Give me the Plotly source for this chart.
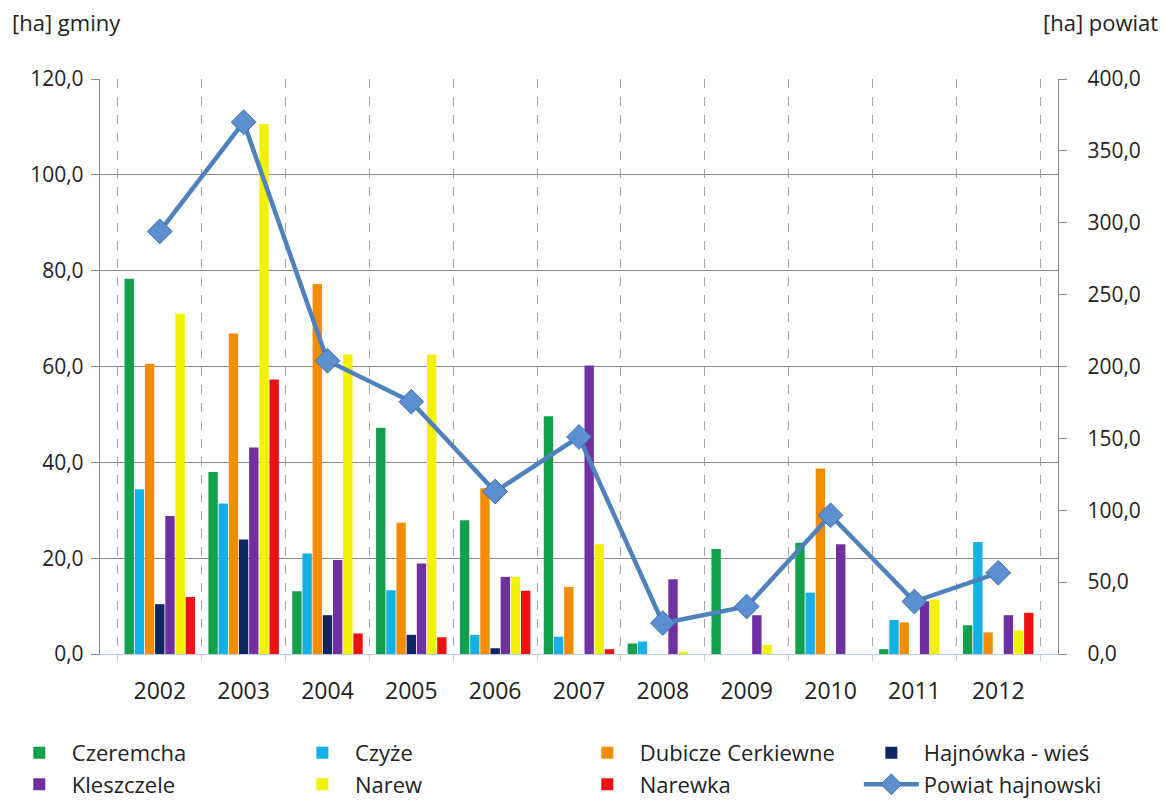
import plotly.graph_objects as go

years = ["2002", "2003", "2004", "2005", "2006", "2007", "2008", "2009", "2010", "2011", "2012"]

czeremcha = [78.3, 38.0, 13.1, 47.2, 27.9, 49.6, 2.2, 21.9, 23.2, 1.0, 6.0]
czyze = [34.4, 31.4, 21.0, 13.3, 4.0, 3.6, 2.6, 0.0, 12.8, 7.1, 23.4]
dubicze = [60.6, 66.9, 77.2, 27.4, 34.6, 14.0, 0.0, 0.0, 38.7, 6.6, 4.5]
hajnowka = [10.4, 23.9, 8.1, 4.0, 1.2, 0.0, 0.0, 0.0, 0.0, 0.0, 0.0]
kleszczele = [28.8, 43.1, 19.6, 18.9, 16.1, 60.2, 15.6, 8.1, 22.9, 11.0, 8.1]
narew = [71.0, 110.6, 62.5, 62.5, 16.1, 22.9, 0.5, 1.9, 0.0, 11.4, 4.9]
narewka = [11.9, 57.3, 4.3, 3.5, 13.2, 1.0, 0.0, 0.0, 0.0, 0.0, 8.6]
powiat = [294.0, 370.0, 204.0, 175.5, 113.0, 151.0, 21.5, 33.0, 96.5, 36.5, 56.5]

series = [
    ("Czeremcha", czeremcha, "#12a04c"),
    ("Czyże", czyze, "#14b0e6"),
    ("Dubicze Cerkiewne", dubicze, "#f28c00"),
    ("Hajnówka - wieś", hajnowka, "#0d2560"),
    ("Kleszczele", kleszczele, "#7030a0"),
    ("Narew", narew, "#f2f200"),
    ("Narewka", narewka, "#ee1111"),
]

FONT = "Open Sans"
TXT = "#222222"

# legend slots: (x paper, y paper) for 4 columns x 2 rows
col_x = [-0.0973, 0.1982, 0.4956, 0.7921]
row_y = [-0.1720, -0.2270]
legend_ids = ["legend", "legend2", "legend3", "legend4",
              "legend5", "legend6", "legend7", "legend8"]

fig = go.Figure()
for i, (name, vals, col) in enumerate(series):
    fig.add_trace(go.Bar(
        x=years, y=vals, name=name,
        marker=dict(color=col, line=dict(width=0)),
        yaxis="y", legend=legend_ids[i],
    ))

fig.add_trace(go.Scatter(
    x=years, y=powiat, name="Powiat hajnowski", yaxis="y2",
    mode="lines+markers", legend=legend_ids[7],
    line=dict(color="#4f81bd", width=4.5),
    marker=dict(symbol="diamond", size=19, color="#5b8fcf",
                line=dict(color="#3f6fa8", width=1)),
))

legend_layouts = {}
for i, lid in enumerate(legend_ids):
    legend_layouts[lid] = dict(
        x=col_x[i % 4], xanchor="left",
        y=row_y[i // 4], yanchor="middle",
        orientation="h", itemwidth=55,
        bgcolor="rgba(0,0,0,0)",
        font=dict(family=FONT, size=22, color=TXT),
    )

fig.update_layout(
    width=1158, height=792,
    paper_bgcolor="white", plot_bgcolor="white",
    margin=dict(l=92, r=108, t=71, b=146, autoexpand=False),
    barmode="group", bargap=0.15, bargroupgap=0.08,
    separators=",.",
    font=dict(family=FONT, size=21, color=TXT),
    showlegend=True,
    xaxis=dict(
        type="category", tickson="boundaries",
        showgrid=True, gridcolor="#a6a6a6", griddash="dash", gridwidth=1.2,
        showline=True, linecolor="#b9cde8", linewidth=1,
        ticks="outside", ticklen=6, tickcolor="#b9cde8",
        ticklabelstandoff=16,
        tickfont=dict(family=FONT, size=23, color=TXT),
    ),
    yaxis=dict(
        range=[0, 120], dtick=20, tickformat=".1f",
        showgrid=True, gridcolor="#8a8a8a", gridwidth=1.4,
        showline=True, linecolor="#8a8a8a", linewidth=1.4,
        ticks="outside", ticklen=8, tickcolor="#8a8a8a",
        ticklabelstandoff=3,
        zeroline=False,
        tickfont=dict(family=FONT, size=21, color=TXT),
    ),
    yaxis2=dict(
        range=[0, 400], dtick=50, tickformat=".1f",
        overlaying="y", side="right", showgrid=False,
        showline=True, linecolor="#8a8a8a", linewidth=1.4,
        ticks="outside", ticklen=8, tickcolor="#8a8a8a",
        ticklabelstandoff=16,
        zeroline=False,
        tickfont=dict(family=FONT, size=21, color=TXT),
    ),
    annotations=[
        dict(text="[ha] gminy", xref="paper", yref="paper",
             x=-0.094, y=1.099, xanchor="left", yanchor="middle",
             showarrow=False, font=dict(family=FONT, size=22, color=TXT)),
        dict(text="[ha] powiat", xref="paper", yref="paper",
             x=1.1065, y=1.099, xanchor="right", yanchor="middle",
             showarrow=False, font=dict(family=FONT, size=22, color=TXT)),
    ],
    **legend_layouts,
)

fig.write_html("out.html")
